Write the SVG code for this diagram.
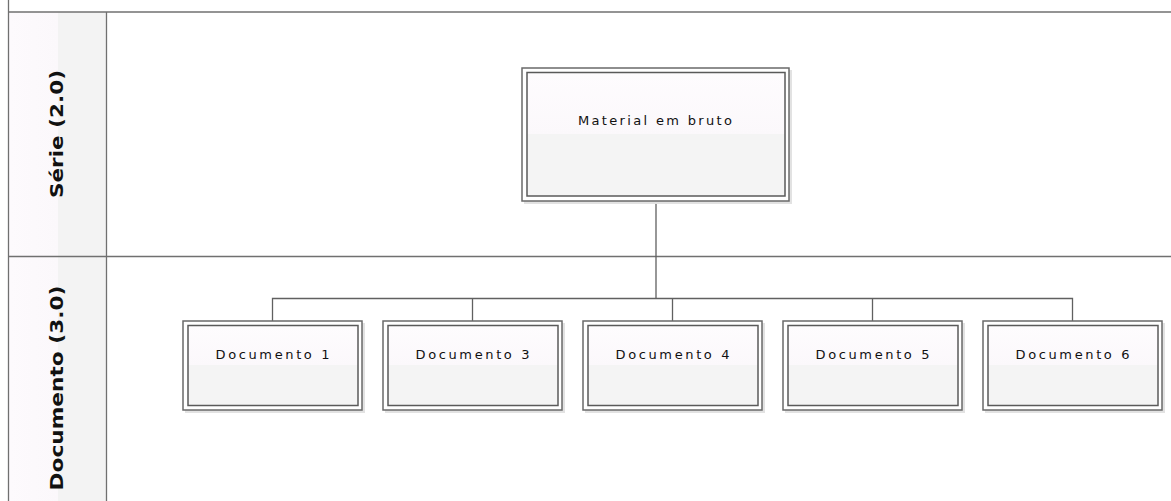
<svg xmlns="http://www.w3.org/2000/svg" width="1171" height="501" viewBox="0 0 1171 501">
<defs>
<linearGradient id="boxg" x1="0" y1="0" x2="0" y2="1">
<stop offset="0" stop-color="#fefcfe"/>
<stop offset="0.5" stop-color="#fbf8fb"/>
<stop offset="0.5" stop-color="#f4f4f4"/>
<stop offset="1" stop-color="#f4f4f4"/>
</linearGradient>
<linearGradient id="laneg" x1="0" y1="0" x2="1" y2="0">
<stop offset="0" stop-color="#fdfafd"/>
<stop offset="0.5" stop-color="#fbf8fb"/>
<stop offset="0.5" stop-color="#f3f3f3"/>
<stop offset="1" stop-color="#f3f3f3"/>
</linearGradient>
</defs>
<style>
.frame{stroke:#707070;stroke-width:1.3;fill:none}
.shadow{fill:#e2e2e2}
.outer{fill:#ffffff;stroke:#6a6a6a;stroke-width:1.5}
.inner{fill:url(#boxg);stroke:#5a5a5a;stroke-width:1.5}
.lbl{font-family:"DejaVu Sans",sans-serif;font-size:13px;fill:#111;text-anchor:middle}
.lane{font-family:"DejaVu Sans",sans-serif;font-size:17px;font-weight:bold;fill:#111;text-anchor:middle}
.conn{stroke:#606060;stroke-width:1.3;fill:none}
</style>
<rect x="0" y="0" width="1171" height="501" fill="#ffffff"/>
<g id="lanes">
<rect x="9" y="12" width="97" height="489" fill="url(#laneg)"/>
<line class="frame" x1="8.5" y1="0" x2="8.5" y2="501"/>
<line class="frame" x1="8" y1="12" x2="1171" y2="12"/>
<line class="frame" x1="106.5" y1="12" x2="106.5" y2="501"/>
<line class="frame" x1="8" y1="256.5" x2="1171" y2="256.5"/>
<text class="lane" transform="translate(63,134) rotate(-90)" textLength="128" lengthAdjust="spacingAndGlyphs">Série (2.0)</text>
<text class="lane" transform="translate(63,388) rotate(-90)" textLength="205" lengthAdjust="spacingAndGlyphs">Documento (3.0)</text>
</g>
<g id="connectors">
<polyline class="conn" points="656,201 656,298.5"/>
<polyline class="conn" points="272.5,321 272.5,298.5 1072.5,298.5 1072.5,321"/>
<line class="conn" x1="472.5" y1="298.5" x2="472.5" y2="321"/>
<line class="conn" x1="672.5" y1="298.5" x2="672.5" y2="321"/>
<line class="conn" x1="872.5" y1="298.5" x2="872.5" y2="321"/>
</g>
<g id="material">
<rect class="shadow" x="524" y="70" width="268" height="134"/>
<rect class="outer" x="522" y="68" width="267" height="133"/>
<rect class="inner" x="527" y="72.5" width="258" height="123.5"/>
<text class="lbl" x="655" y="125" textLength="154" lengthAdjust="spacing">Material em bruto</text>
</g>
<g id="doc1">
<rect class="shadow" x="185" y="323" width="180" height="90"/>
<rect class="outer" x="183" y="321" width="179" height="89"/>
<rect class="inner" x="188" y="325.5" width="170" height="80"/>
<text class="lbl" x="272.5" y="359" textLength="114" lengthAdjust="spacing">Documento 1</text>
</g>
<g id="doc3">
<rect class="shadow" x="385" y="323" width="180" height="90"/>
<rect class="outer" x="383" y="321" width="179" height="89"/>
<rect class="inner" x="388" y="325.5" width="170" height="80"/>
<text class="lbl" x="472.5" y="359" textLength="114" lengthAdjust="spacing">Documento 3</text>
</g>
<g id="doc4">
<rect class="shadow" x="585" y="323" width="180" height="90"/>
<rect class="outer" x="583" y="321" width="179" height="89"/>
<rect class="inner" x="588" y="325.5" width="170" height="80"/>
<text class="lbl" x="672.5" y="359" textLength="114" lengthAdjust="spacing">Documento 4</text>
</g>
<g id="doc5">
<rect class="shadow" x="785" y="323" width="180" height="90"/>
<rect class="outer" x="783" y="321" width="179" height="89"/>
<rect class="inner" x="788" y="325.5" width="170" height="80"/>
<text class="lbl" x="872.5" y="359" textLength="114" lengthAdjust="spacing">Documento 5</text>
</g>
<g id="doc6">
<rect class="shadow" x="985" y="323" width="180" height="90"/>
<rect class="outer" x="983" y="321" width="179" height="89"/>
<rect class="inner" x="988" y="325.5" width="170" height="80"/>
<text class="lbl" x="1072.5" y="359" textLength="114" lengthAdjust="spacing">Documento 6</text>
</g>
</svg>
